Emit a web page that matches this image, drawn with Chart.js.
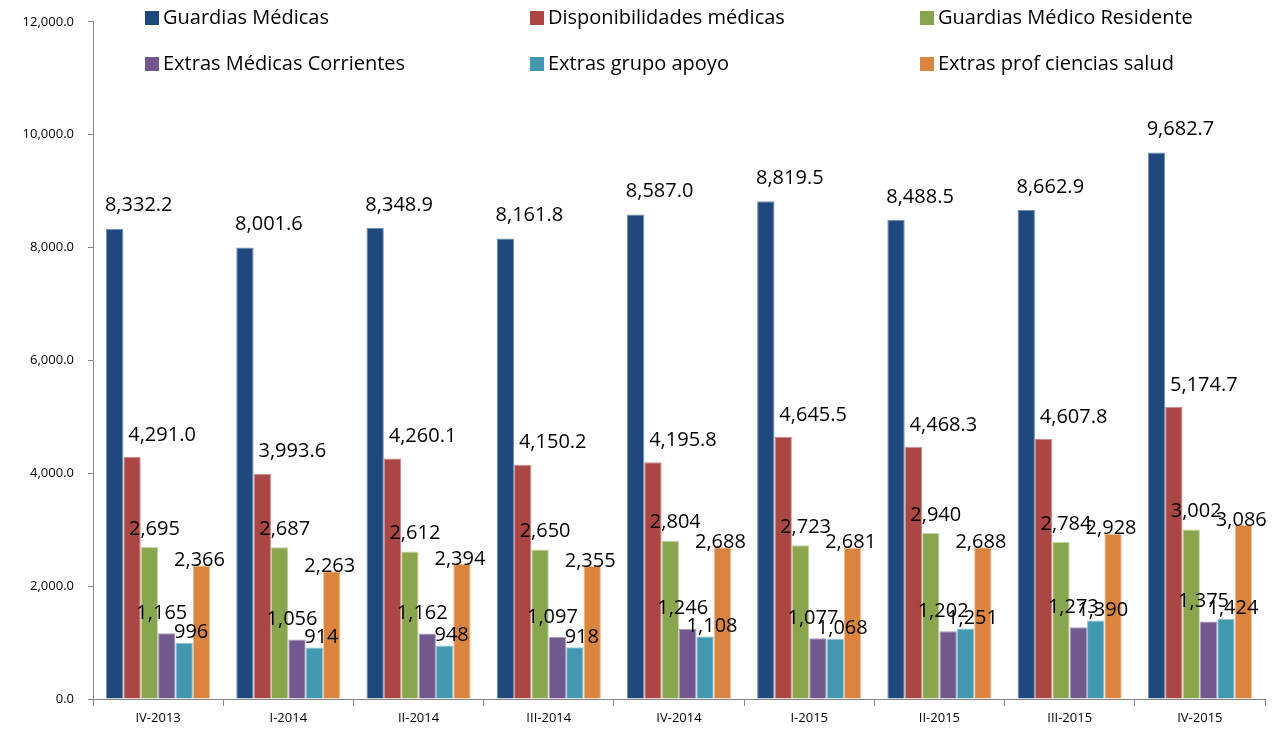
<!DOCTYPE html>
<html>
<head>
<meta charset="utf-8">
<script src="https://cdn.jsdelivr.net/npm/chart.js@4.4.0/dist/chart.umd.min.js"></script>
<style>
  body { margin: 0; background: #fff; }
  #wrap { width: 1277px; height: 733px; }
</style>
</head>
<body>
<div id="wrap"><canvas id="grafico" width="1277" height="733"></canvas></div>
<script>
const periodos = ['IV-2013', 'I-2014', 'II-2014', 'III-2014', 'IV-2014', 'I-2015', 'II-2015', 'III-2015', 'IV-2015'];
const guardiasMedicas = [8332.2, 8001.6, 8348.9, 8161.8, 8587.0, 8819.5, 8488.5, 8662.9, 9682.7];
const disponibilidades = [4291.0, 3993.6, 4260.1, 4150.2, 4195.8, 4645.5, 4468.3, 4607.8, 5174.7];
const guardiasResidente = [2695, 2687, 2612, 2650, 2804, 2723, 2940, 2784, 3002];
const extrasCorrientes = [1165, 1056, 1162, 1097, 1246, 1077, 1202, 1273, 1375];
const extrasApoyo = [996, 914, 948, 918, 1108, 1068, 1251, 1390, 1424];
const extrasCiencias = [2366, 2263, 2394, 2355, 2688, 2681, 2688, 2928, 3086];
const yTicks = [0, 2000, 4000, 6000, 8000, 10000, 12000];

const FUENTE = "'Open Sans', 'Liberation Sans', sans-serif";
const fmt1 = v => v.toLocaleString('en-US', { minimumFractionDigits: 1, maximumFractionDigits: 1 });
const fmt0 = v => v.toLocaleString('en-US', { maximumFractionDigits: 0 });

// offsets de etiquetas por serie (dx, dy respecto al tope de la barra)
const series = [
  { label: 'Guardias Médicas', data: guardiasMedicas, color: '#1F497D', borde: '#6F8FB8', fmt: fmt1, dx: 24, dy: -23 },
  { label: 'Disponibilidades médicas', data: disponibilidades, color: '#AA4643', borde: '#D48A88', fmt: fmt1, dx: 30, dy: -22 },
  { label: 'Guardias Médico Residente', data: guardiasResidente, color: '#89A54E', borde: '#C4D5A3', fmt: fmt0, dx: 5, dy: -18 },
  { label: 'Extras Médicas Corrientes', data: extrasCorrientes, color: '#71588F', borde: '#A996C0', fmt: fmt0, dx: -5, dy: -20 },
  { label: 'Extras grupo apoyo', data: extrasApoyo, color: '#4198AF', borde: '#8DC6D6', fmt: fmt0, dx: 7, dy: -10 },
  { label: 'Extras prof ciencias salud', data: extrasCiencias, color: '#DB843D', borde: '#F0BC92', fmt: fmt0, dx: -2, dy: -5 }
];

const etiquetas = {
  id: 'etiquetas',
  afterDatasetsDraw(chart) {
    const ctx = chart.ctx;
    ctx.save();
    ctx.font = '20px ' + FUENTE;
    ctx.fillStyle = '#000';
    ctx.textAlign = 'center';
    ctx.textBaseline = 'middle';
    chart.data.datasets.forEach((ds, i) => {
      const s = series[i];
      chart.getDatasetMeta(i).data.forEach((bar, j) => {
        ctx.fillText(s.fmt(ds.data[j]), bar.x + s.dx, bar.y + s.dy);
      });
    });
    ctx.restore();
  }
};

const leyenda = {
  id: 'leyenda',
  afterDraw(chart) {
    const ctx = chart.ctx;
    const cols = [145, 530, 920], filas = [18, 64];
    ctx.save();
    ctx.font = '20px ' + FUENTE;
    ctx.textBaseline = 'middle';
    ctx.textAlign = 'left';
    chart.data.datasets.forEach((ds, i) => {
      const x = cols[i % 3], y = filas[Math.floor(i / 3)];
      ctx.fillStyle = ds.backgroundColor;
      ctx.fillRect(x, y - 7, 14, 14);
      ctx.fillStyle = '#000';
      ctx.fillText(ds.label, x + 18, y);
    });
    ctx.restore();
  }
};

new Chart(document.getElementById('grafico'), {
  type: 'bar',
  data: {
    labels: periodos,
    datasets: series.map(s => ({ label: s.label, data: s.data, backgroundColor: s.color, borderColor: s.borde, borderWidth: 1 }))
  },
  options: {
    responsive: false,
    animation: false,
    layout: { padding: { top: 18, right: 12, left: 0, bottom: 0 } },
    datasets: { bar: { barPercentage: 1, categoryPercentage: 0.8 } },
    plugins: { legend: { display: false }, tooltip: { enabled: false } },
    scales: {
      x: {
        grid: { offset: true, drawOnChartArea: false, tickLength: 7, color: '#868686' },
        border: { color: '#868686', width: 1 },
        ticks: { color: '#000', font: { size: 13, family: FUENTE }, padding: 4, maxRotation: 0 },
        afterFit: s => { s.height = 34; }
      },
      y: {
        min: 0, max: 12000,
        afterBuildTicks: s => { s.ticks = yTicks.map(v => ({ value: v })); },
        grid: { drawOnChartArea: false, tickLength: 5, color: '#868686' },
        border: { color: '#868686', width: 1 },
        ticks: { color: '#000', font: { size: 13, family: FUENTE }, padding: 14, callback: v => fmt1(v) },
        afterFit: s => { s.width = 93; }
      }
    }
  },
  plugins: [etiquetas, leyenda]
});
</script>
</body>
</html>
